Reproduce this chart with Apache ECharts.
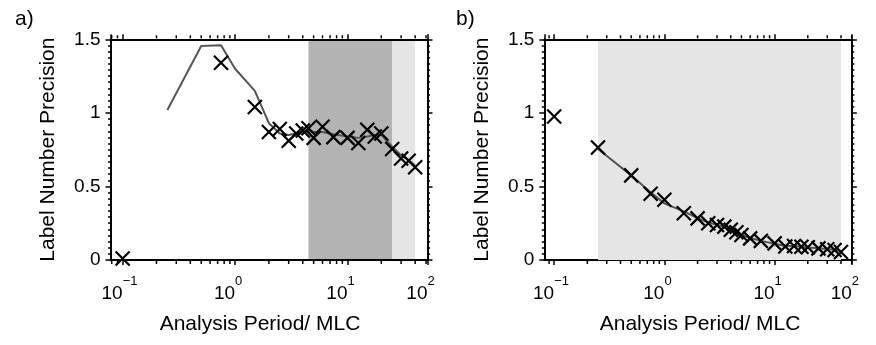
<!DOCTYPE html>
<html><head><meta charset="utf-8">
<script src="https://cdn.jsdelivr.net/npm/echarts@6/dist/echarts.min.js"></script>
<style>html,body{margin:0;padding:0;background:#fff}#c{width:876px;height:345px}</style>
</head><body><div id="c"></div>
<script>
// ---------- data ----------
const panelLabels = ['a)', 'b)'];
const xName = 'Analysis Period/ MLC';
const yName = 'Label Number Precision';
const yTickValues = [0, 0.5, 1, 1.5];
const xTickExponents = [-1, 0, 1, 2];
const xMinorTickValues = [0.08, 0.09, 0.2, 0.3, 0.4, 0.5, 0.6, 0.7, 0.8, 0.9, 2, 3, 4, 5, 6, 7, 8, 9, 20, 30, 40, 50];

const aMarkX = [0.1, 0.75, 1.5, 2, 2.5, 3, 3.5, 4, 4.5, 5, 6, 7.5, 10, 12.5, 15, 17.5, 20, 25, 30, 35, 40];
const aMarkY = [0.01, 1.34, 1.04, 0.87, 0.89, 0.81, 0.86, 0.88, 0.895, 0.83, 0.905, 0.835, 0.83, 0.795, 0.885, 0.84, 0.86, 0.755, 0.69, 0.675, 0.63];
const aLineX = [0.25, 0.5, 0.75, 1, 1.5, 2, 2.5, 3, 3.5, 4, 4.5, 5, 6, 7.5, 10, 12.5, 15, 17.5, 20, 25, 30, 35, 40];
const aLineY = [1.02, 1.455, 1.46, 1.30, 1.15, 0.93, 0.86, 0.85, 0.86, 0.87, 0.88, 0.87, 0.87, 0.855, 0.84, 0.83, 0.84, 0.85, 0.85, 0.77, 0.71, 0.68, 0.64];
const aDarkBand = [4.5, 25];
const aLightBand = [25, 40];

const bMarkX = [0.1, 0.25, 0.5, 0.75, 1, 1.5, 2, 2.5, 3, 3.5, 4, 4.5, 5, 6, 7.5, 10, 12.5, 15, 17.5, 20, 25, 30, 35, 40];
const bMarkY = [0.975, 0.765, 0.575, 0.45, 0.41, 0.318, 0.283, 0.25, 0.238, 0.227, 0.205, 0.188, 0.17, 0.147, 0.13, 0.113, 0.092, 0.095, 0.09, 0.086, 0.079, 0.073, 0.068, 0.055];
const bLineX = [0.25, 0.5, 0.75, 1, 1.5, 2, 2.5, 3, 3.5, 4, 4.5, 5, 6, 7.5, 10, 12.5, 15, 17.5, 20, 25, 30, 35, 40];
const bLineY = [0.755, 0.575, 0.46, 0.385, 0.33, 0.285, 0.255, 0.24, 0.225, 0.21, 0.19, 0.17, 0.15, 0.13, 0.11, 0.095, 0.095, 0.09, 0.085, 0.08, 0.075, 0.07, 0.06];
const bBand = [0.25, 40];

// axis extents
const aXRange = [0.078, 51.5];
const bXRange = [0.0814, 50.2];
const yRange = [0, 1.5];

// ---------- styling ----------
const FONT = '"Liberation Sans", Arial, sans-serif';
const BASE = 19, SUP = 13;
const cv = document.createElement('canvas').getContext('2d');
function tw(t, s) { cv.font = s + 'px "Liberation Sans"'; return cv.measureText(t).width; }
function expText(n) { return n < 0 ? '\u2212' + (-n) : String(n); }
const rich = {
  b: { fontSize: BASE, fontFamily: FONT, color: '#000', lineHeight: 28, verticalAlign: 'bottom' },
  s: { fontSize: SUP, fontFamily: FONT, color: '#000', lineHeight: 14, verticalAlign: 'top' }
};
xTickExponents.forEach((n, i) => {
  rich['p' + i] = { width: Math.max(0, tw('10', BASE) - tw(expText(n), SUP)), lineHeight: 14, verticalAlign: 'top' };
});
function xLabelFormatter(max) {
  return function (value) {
    const e = Math.log10(value);
    let n = null;
    if (Math.abs(e - Math.round(e)) < 0.02) n = Math.round(e);
    else if (value >= max * 0.999) n = xTickExponents[xTickExponents.length - 1];
    const i = xTickExponents.indexOf(n);
    if (i < 0) return '';
    return '{b|10}{s|' + expText(n) + '}{p' + i + '| }';
  };
}

const XPATH = 'path://M0,0L10,10M10,0L0,10';
const grids = [
  { left: 110.5, top: 39.3, width: 317, height: 220.7 },
  { left: 544.3, top: 39.3, width: 311.7, height: 220.7 }
];
const ranges = [aXRange, bXRange];

const xAxes = [], yAxes = [];
[0, 1].forEach(g => {
  const r = ranges[g];
  const common = {
    type: 'log', logBase: 10, gridIndex: g, min: r[0], max: r[1],
    splitLine: { show: false },
    axisLine: { show: true, onZero: false, lineStyle: { color: '#000', width: 2 } },
    axisTick: { show: true, inside: false, length: 5, lineStyle: { color: '#000', width: 1.5 } }
  };
  xAxes.push(Object.assign({}, common, {
    position: 'bottom', z: g === 0 ? 5 : 0,
    name: xName, nameLocation: 'middle', nameGap: 54,
    nameTextStyle: { fontSize: 21, fontFamily: FONT, color: '#000', padding: g === 0 ? [0, 18, 0, 0] : [0, 0, 0, 4] },
    axisLabel: { show: true, margin: 15, formatter: xLabelFormatter(r[1]), rich: rich, showMinLabel: false }
  }));
  xAxes.push(Object.assign({}, common, {
    position: 'top', z: 5, axisLabel: { show: false }
  }));
  const ycommon = {
    type: 'value', gridIndex: g, min: yRange[0], max: yRange[1], interval: 0.5,
    splitLine: { show: false },
    axisLine: { show: true, onZero: false, lineStyle: { color: '#000', width: 2 } },
    axisTick: { show: true, inside: false, length: 5, lineStyle: { color: '#000', width: 1.5 } },
    minorTick: { show: true, splitNumber: 12, length: 2.5, lineStyle: { color: '#000', width: 1.5 } }
  };
  yAxes.push(Object.assign({}, ycommon, {
    position: 'left', z: 5,
    name: yName, nameLocation: 'middle', nameGap: 52,
    nameTextStyle: { fontSize: 21, fontFamily: FONT, color: '#000' },
    axisLabel: { show: true, margin: 10, fontSize: BASE, fontFamily: FONT, color: '#000',
      formatter: v => (yTickValues.indexOf(v) >= 0 ? String(v) : '') }
  }));
  yAxes.push(Object.assign({}, ycommon, {
    position: 'right', z: 5, axisLabel: { show: false }
  }));
});

function zip(xs, ys) { return xs.map((x, i) => [x, ys[i]]); }
function bandData(bands) {
  return bands.map(b => [{ xAxis: b.x[0], yAxis: yRange[0], itemStyle: { color: b.c } }, { xAxis: b.x[1], yAxis: yRange[1] }]);
}
function minorTickSeries(g, range) {
  const vals = xMinorTickValues.filter(v => v > range[0] && v < range[1]);
  const base = { type: 'scatter', xAxisIndex: g * 2, yAxisIndex: g * 2, silent: true, clip: false, z: 6,
    symbol: 'rect', symbolSize: [1.5, 3], itemStyle: { color: '#000', opacity: 1 } };
  return [
    Object.assign({}, base, { data: vals.map(v => [v, yRange[0]]), symbolOffset: [0, 2.5] }),
    Object.assign({}, base, { data: vals.map(v => [v, yRange[1]]), symbolOffset: [0, -2.5] })
  ];
}
function panelSeries(g, lx, ly, mx, my, bands, range) {
  return [
    { type: 'line', xAxisIndex: g * 2, yAxisIndex: g * 2, data: [], z: 1, silent: true,
      markArea: { silent: true, itemStyle: { opacity: 1 }, data: bandData(bands) } },
    { type: 'line', xAxisIndex: g * 2, yAxisIndex: g * 2, data: zip(lx, ly), z: 2, symbol: 'none',
      lineStyle: { color: '#555555', width: 2 } },
    { type: 'scatter', xAxisIndex: g * 2, yAxisIndex: g * 2, data: zip(mx, my), z: 3, clip: false,
      symbol: XPATH, symbolSize: 14,
      itemStyle: { color: 'none', borderColor: '#000', borderWidth: 2.2, opacity: 1 } }
  ].concat(minorTickSeries(g, range));
}

const option = {
  animation: false,
  backgroundColor: '#fff',
  title: [
    { text: panelLabels[0], left: 10, top: 4, textStyle: { fontSize: 21, fontWeight: 'normal', fontFamily: FONT, color: '#000' } },
    { text: panelLabels[1], left: 451, top: 4, textStyle: { fontSize: 21, fontWeight: 'normal', fontFamily: FONT, color: '#000' } }
  ],
  grid: grids,
  xAxis: xAxes,
  yAxis: yAxes,
  series: [].concat(
    panelSeries(0, aLineX, aLineY, aMarkX, aMarkY,
      [{ x: aDarkBand, c: '#b3b3b3' }, { x: aLightBand, c: '#e5e5e5' }], aXRange),
    panelSeries(1, bLineX, bLineY, bMarkX, bMarkY, [{ x: bBand, c: '#e5e5e5' }], bXRange)
  )
};
const chart = echarts.init(document.getElementById('c'), null, { renderer: 'canvas' });
chart.setOption(option);
</script>
</body></html>
